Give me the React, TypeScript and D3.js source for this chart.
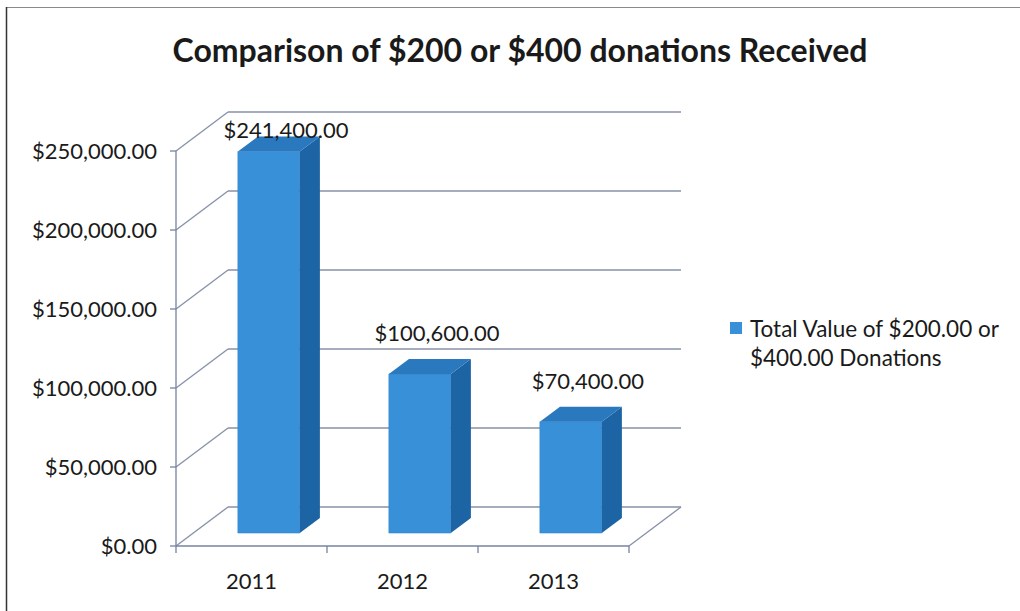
import React from "react";
import * as d3 from "d3";

const title = "Comparison of $200 or $400 donations Received";
const categories = ["2011", "2012", "2013"];
const values = [241400, 100600, 70400];
const yTicks = [0, 50000, 100000, 150000, 200000, 250000];
const legendLines = ["Total Value of $200.00 or", "$400.00 Donations"];

const W = 1020;
const H = 611;
const FONT = "Lato, 'Open Sans', sans-serif";

export default function App() {
  const x0 = 176;
  const x1 = 629;
  const floorY = 546;
  const plotH = 395;
  const dx = 52;
  const dy = -39;
  const f0 = 0.333;
  const f1 = 0.72;

  const xBand = d3.scaleBand<string>().domain(categories).range([x0, x1]).padding(0);
  const y = d3.scaleLinear().domain([0, 250000]).range([floorY, floorY - plotH]);
  const fmt = d3.format("$,.2f");

  const P = (x: number, v: number, f: number): [number, number] => [x + f * dx, y(v) + f * dy];
  const poly = (pts: [number, number][]) => pts.map((p) => p.join(",")).join(" ");

  const gridColor = "#8690a8";
  const axisColor = "#7683a0";
  const barW = xBand.bandwidth() * 0.41;

  return (
    <svg width={W} height={H} style={{ position: "absolute", left: 0, top: 0, background: "#fff" }} fontFamily={FONT}>
      {/* border */}
      <line x1={7} y1={7.5} x2={W} y2={7.5} stroke="#8a8a8a" strokeWidth={1.2} />
      <line x1={6.5} y1={7} x2={6.5} y2={H} stroke="#333" strokeWidth={1.5} />

      <text x={520} y={62} textAnchor="middle" fontSize={32} fontWeight="bold" fill="#1a1a1a">
        {title}
      </text>

      {/* back wall gridlines & side wall diagonals */}
      {yTicks.map((t) => {
        const [bx0, by] = P(x0, t, 1);
        const [bx1] = P(x1, t, 1);
        return (
          <g key={t}>
            <line x1={bx0} y1={by} x2={bx1} y2={by} stroke={gridColor} strokeWidth={1.3} />
            <line x1={x0} y1={y(t)} x2={bx0} y2={by} stroke={gridColor} strokeWidth={1.3} />
            <line x1={x0 - 6} y1={y(t)} x2={x0} y2={y(t)} stroke={axisColor} strokeWidth={1.3} />
            <text x={157} y={y(t) + 8} textAnchor="end" fontSize={22} fill="#1a1a1a">
              {fmt(t)}
            </text>
          </g>
        );
      })}

      {/* floor front & right edges, y axis */}
      <line x1={x0} y1={floorY} x2={x1} y2={floorY} stroke={axisColor} strokeWidth={1.3} />
      <line x1={x1} y1={floorY} x2={x1 + dx} y2={floorY + dy} stroke={gridColor} strokeWidth={1.3} />
      <line x1={x0} y1={y(250000)} x2={x0} y2={floorY} stroke={axisColor} strokeWidth={1.3} />
      {[x0, ...categories.map((c) => (xBand(c) as number) + xBand.bandwidth())].map((tx, i) => (
        <line key={i} x1={tx} y1={floorY} x2={tx} y2={floorY + 7} stroke={axisColor} strokeWidth={1.3} />
      ))}

      {/* bars */}
      {categories.map((c, i) => {
        const cx = (xBand(c) as number) + xBand.bandwidth() / 2;
        const l = cx - barW / 2;
        const r = cx + barW / 2;
        const v = values[i];
        const front = poly([P(l, 0, f0), P(r, 0, f0), P(r, v, f0), P(l, v, f0)]);
        const side = poly([P(r, 0, f0), P(r, 0, f1), P(r, v, f1), P(r, v, f0)]);
        const top = poly([P(l, v, f0), P(r, v, f0), P(r, v, f1), P(l, v, f1)]);
        const topBackY = P(l, v, f1)[1];
        const labelY = Math.max(topBackY - 18, y(250000) + dy + 26);
        const labelX = P(cx, v, f0)[0] + (f1 - f0) * dx * 0.85;
        return (
          <g key={c}>
            <polygon points={front} fill="#3890d8" stroke="#3088d0" strokeWidth={0.6} />
            <polygon points={side} fill="#1c64a3" />
            <polygon points={top} fill="#2a78bd" />
            <text x={labelX} y={labelY} textAnchor="middle" fontSize={22} fill="#1a1a1a">
              {fmt(v)}
            </text>
            <text x={cx} y={589} textAnchor="middle" fontSize={22} fill="#1a1a1a">
              {c}
            </text>
          </g>
        );
      })}

      {/* legend */}
      <rect x={730} y={322} width={12} height={12} fill="#3890d8" />
      {legendLines.map((t, i) => (
        <text key={i} x={750} y={337 + i * 29} fontSize={22.5} fill="#1a1a1a">
          {t}
        </text>
      ))}
    </svg>
  );
}
